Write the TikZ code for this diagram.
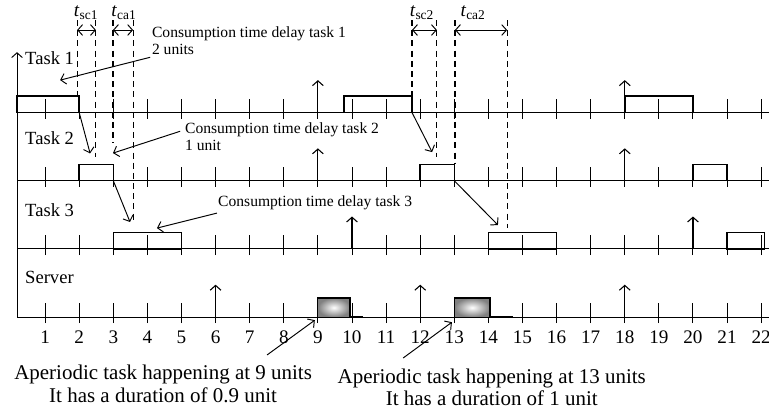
\documentclass[tikz,border=0pt]{standalone}
\usepackage{fontspec}
\setmainfont{Liberation Serif}
\usepackage{tikz}
\usetikzlibrary{calc}
\usetikzlibrary{arrows.meta}

\tikzset{
  tline/.style={black,line width=.8pt},
  tbox/.style={black,line width=1.3pt},
  sbox/.style={draw=black,line width=1pt,inner color=white,outer color=black!50},
  rel/.style={black,line width=.9pt,->},
  dline/.style={black,line width=.9pt,dash pattern=on 5pt off 3.5pt},
  larr/.style={black,line width=.8pt,->},
  darr/.style={black,line width=.8pt,<->},
  smalltxt/.style={font=\fontsize{13}{14.5}\selectfont,inner sep=0pt},
  tasktxt/.style={font=\fontsize{15.5}{17}\selectfont,inner sep=0pt},
  numtxt/.style={font=\fontsize{16}{17}\selectfont,inner sep=0pt},
  aptxt/.style={font=\fontsize{17.5}{18.5}\selectfont,inner sep=0pt,align=center},
}

\begin{document}
\begin{tikzpicture}[x=1cm,y=1cm,>={Straight Barb[length=4pt,width=9pt]}]
\useasboundingbox (-0.323,-0.93) rectangle (22.23,11.30);

% time lines with unit ticks
\draw[tline,->] (0.176,2)--(0.176,9.77);
\foreach \y in {2,4,6,8} {
  \draw[tline] (0.176,\y)--(22.23,\y);
  \foreach \x in {1,...,22}
    \draw[tline] (\x,\y-.18)--++(0,.59);
}
\foreach \x in {1,...,22}
  \node[numtxt] (n\x) at (\x,1.41) {\x};

% releases
\foreach \x/\y in {9/8,18/8,9/6,18/6,10/4,20/4,6/2,12/2,18/2}
  \draw[rel] (\x,\y)--++(0,.95);

% executions
\foreach \a/\b/\y in {0.176/2/8,9.77/11.76/8,18/20/8,2/3/6,12/13/6,20/21/6,3/5/4,14/16/4,21/22.1/4}
  \draw[tbox] (\a,\y) rectangle (\b,\y+.48);
\draw[sbox] (9,2) rectangle (9.94,2.56);
\draw[sbox] (13,2) rectangle (14.05,2.56);
\draw[line width=2pt] (9.94,2)--(10.32,2);
\draw[line width=2pt] (14.05,2)--(14.72,2);

\node[tasktxt,anchor=west] (task1) at (0.41,9.6) {Task 1};
\node[tasktxt,anchor=west] (task2) at (0.41,7.25) {Task 2};
\node[tasktxt,anchor=west] (task3) at (0.41,5.14) {Task 3};
\node[tasktxt,anchor=west] (server) at (0.41,3.17) {Server};

% delay marks
\foreach \n/\x/\b in {1/1.94/8.5,2/2.49/6.69,3/2.99/7.1,4/3.58/4.79,5/11.76/8.5,6/12.49/6.69,7/13.02/6.5,8/14.55/4.61} {
  \coordinate (dt\n) at (\x,10.71);
  \coordinate (db\n) at (\x,\b);
  \draw[dline] (dt\n)--(db\n);
}
\draw[darr] ([yshift=-.29cm]dt1)--([yshift=-.29cm]dt2);
\draw[darr] ([yshift=-.29cm]dt3)--([yshift=-.29cm]dt4);
\draw[darr] ([yshift=-.29cm]dt5)--([yshift=-.29cm]dt6);
\draw[darr] ([yshift=-.29cm]dt7)--([yshift=-.29cm]dt8);
\node[numtxt] (tsc1) at (2.2,10.93) {\textit{t}\textsubscript{sc1}};
\node[numtxt] (tca1) at (3.31,10.93) {\textit{t}\textsubscript{ca1}};
\node[numtxt] (tsc2) at (12.05,10.93) {\textit{t}\textsubscript{sc2}};
\node[numtxt] (tca2) at (13.55,10.93) {\textit{t}\textsubscript{ca2}};

% hand-over between tasks
\coordinate (a1s) at (2,8);      \coordinate (a1e) at (2.32,6.8);
\coordinate (a2s) at (3,6);      \coordinate (a2e) at (3.49,4.79);
\coordinate (a3s) at (11.76,8);  \coordinate (a3e) at (12.35,6.84);
\coordinate (a4s) at (13,6);     \coordinate (a4e) at (14.28,4.7);
\foreach \n in {1,...,4}
  \draw[larr] (a\n s)--(a\n e);

% comments
\node[smalltxt,anchor=west,align=left] (cd1) at (4.13,10.11) {Consumption time delay task 1\\2 units};
\node[smalltxt,anchor=west,align=left] (cd2) at (5.1,7.29) {Consumption time delay task 2\\1 unit};
\node[smalltxt,anchor=west] (cd3) at (6.07,5.34) {Consumption time delay task 3};
\coordinate (c1) at (1.44,8.95);
\coordinate (c2) at (2.99,6.81);
\coordinate (c3) at (4.28,4.61);
\draw[larr] (4.08,9.62) -- (c1);
\draw[larr] (4.96,7.45) -- (c2);
\draw[larr] (6.04,5.05) -- (c3);

\node[aptxt] (ap1) at (4.46,0.04) {Aperiodic task happening at 9 units\\It has a duration of 0.9 unit};
\node[aptxt] (ap2) at (14.1,-0.07) {Aperiodic task happening at 13 units\\It has a duration of 1 unit};
\coordinate (s1) at (8.91,1.91);
\coordinate (s2) at (12.93,1.85);
\draw[larr] (7.51,0.89) -- (s1);
\draw[larr] (11.5,0.80) -- (s2);
\end{tikzpicture}
\end{document}
